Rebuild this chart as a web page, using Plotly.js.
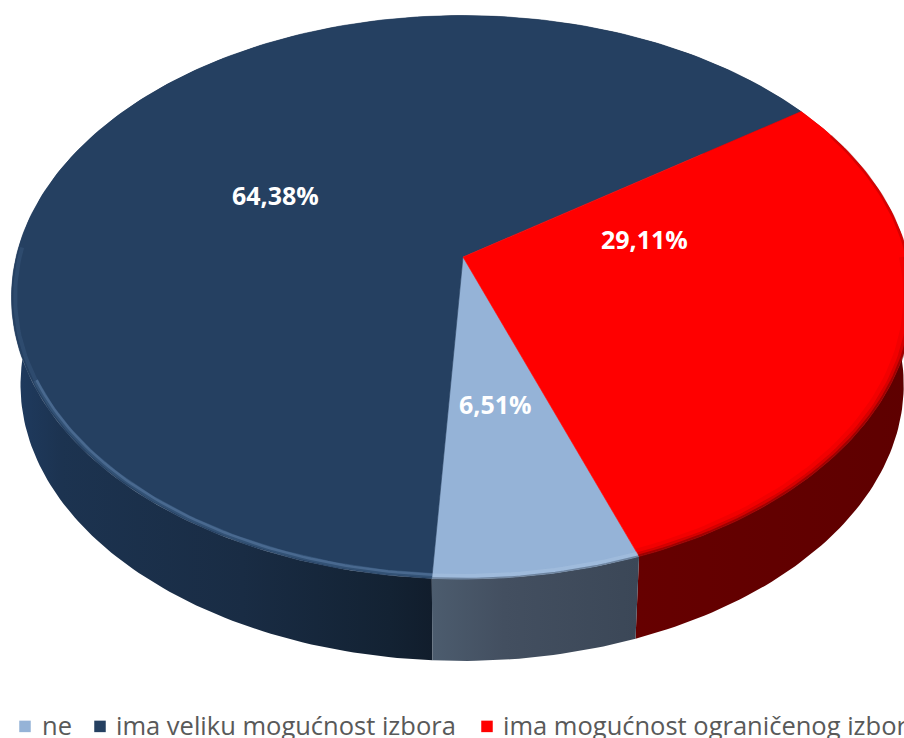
<!DOCTYPE html>
<html><head><meta charset="utf-8">
<script src="https://cdn.plot.ly/plotly-3.0.1.min.js"></script>
<style>html,body{margin:0;padding:0;background:#fff;overflow:hidden}#c{width:904px;height:738px}</style>
</head><body><div id="c"></div>
<script>
const categories = ['ne', 'ima veliku mogućnost izbora', 'ima mogućnost ograničenog izbora'];
const values = [6.51, 64.38, 29.11];
const valueLabels = ['6,51%', '64,38%', '29,11%'];
const topColors = ['#95b3d7', '#254061', '#ff0000'];
const wallGradients = [
  [[0, '#4c5c6e'], [0.35, '#434f60'], [1, '#3b4757']],
  [[0, '#1f3b60'], [0.12, '#1c3350'], [0.55, '#192c44'], [0.9, '#132233'], [1, '#111d2c']],
  [[0, '#660000'], [1, '#5e0000']]
];
const labelAnchors = [[495, 404], [275, 195], [644, 239]];
const legendMarks = [[25, 40.5], [100, 115], [487, 502]];

const W = 904, H = 738;
const apex = [463, 257], A = 446, B = 276, k = 0.1429, j = -0.002, depth = 88.4, lowerScale = 0.98, rotation = 160;

function project(theta, r, drop) {
  const a = theta * Math.PI / 180, u = r * Math.sin(a), v = -r * Math.cos(a);
  const d = 1 - k * v - j * u, s = drop ? lowerScale : 1;
  return [apex[0] + s * A * u / d, apex[1] + (drop || 0) + s * B * v / d];
}
function arc(t0, t1, r, drop) {
  const pts = [], n = Math.ceil(Math.abs(t1 - t0));
  for (let i = 0; i <= n; i++) pts.push(project(t0 + (t1 - t0) * i / n, r, drop));
  return pts;
}
const total = values.reduce((a, b) => a + b, 0);
const spans = []; let cur = rotation;
values.forEach(val => { const next = cur + val / total * 360; spans.push([cur, next]); cur = next; });

const traces = [];
function poly(pts, extra) {
  traces.push(Object.assign({type: 'scatter', mode: 'lines', x: pts.map(p => p[0]), y: pts.map(p => p[1]),
    line: {width: 0}, hoverinfo: 'skip', showlegend: false}, extra));
}
// side walls
[1, 2, 0].forEach(i => {
  const [a, b] = spans[i];
  const pts = arc(a, b, 1, 0).concat(arc(b, a, 1, depth));
  pts.push(pts[0]);
  const xs = pts.map(p => p[0]);
  const stop = i === 1 ? project(a, 1, 0)[0] : Math.max(...xs);
  poly(pts, {fill: 'toself', fillcolor: topColors[i],
    fillgradient: {type: 'horizontal', colorscale: wallGradients[i], start: Math.min(...xs), stop: stop}});
});
// top faces
values.forEach((_, i) => {
  const [a, b] = spans[i];
  const pts = [apex].concat(arc(a, b, 1, 0)); pts.push(apex);
  poly(pts, {fill: 'toself', fillcolor: topColors[i], line: {width: 0.6, color: topColors[i]}});
});
// bevel along the rim
const glow = [[183.4, 245, 0.992, 5, 'rgba(105,145,190,0.22)'], [183.4, 245, 0.99, 2.5, 'rgba(125,160,205,0.30)'],
  [245, 272, 0.992, 4, 'rgba(105,145,190,0.14)'],
  [160, 183.4, 0.992, 4, 'rgba(170,195,225,0.5)'],
  [160, 183.4, 0.999, 1.5, 'rgba(70,85,105,0.5)'],
  [90, 160, 0.995, 5, 'rgba(140,0,0,0.35)'], [90, 160, 0.999, 3, 'rgba(110,0,0,0.5)'],
  [90, 160, 0.985, 5, 'rgba(190,0,0,0.2)'],
  [62, 90, 0.998, 3, 'rgba(130,0,0,0.3)']];
glow.forEach(g => poly(arc(g[0], g[1], g[2], 0), {line: {width: g[3], color: g[4]}}));
// legend markers
categories.forEach((c, i) => {
  traces.push({type: 'scatter', mode: 'markers', x: [legendMarks[i][0]], y: [726.4],
    marker: {symbol: 'square', size: 11.5, color: topColors[i]}, hoverinfo: 'skip', showlegend: false});
});

const annotations = [];
values.forEach((_, i) => annotations.push({x: labelAnchors[i][0], y: labelAnchors[i][1], xref: 'x', yref: 'y',
  text: '<b>' + valueLabels[i] + '</b>', showarrow: false, xanchor: 'center', yanchor: 'middle',
  font: {family: 'Open Sans', size: 25, color: '#ffffff'}}));
categories.forEach((c, i) => annotations.push({x: legendMarks[i][1], y: 725, xref: 'x', yref: 'y', text: c,
  showarrow: false, xanchor: 'left', yanchor: 'middle', align: 'left', borderpad: 0,
  font: {family: 'Open Sans', size: 25.5, color: '#595959'}}));

Plotly.newPlot('c', traces, {
  width: W, height: H, margin: {l: 0, r: 0, t: 0, b: 0}, showlegend: false,
  paper_bgcolor: '#fff', plot_bgcolor: '#fff',
  xaxis: {range: [0, W], visible: false, fixedrange: true},
  yaxis: {range: [H, 0], visible: false, fixedrange: true},
  annotations
}, {displayModeBar: false, staticPlot: true});
</script></body></html>
